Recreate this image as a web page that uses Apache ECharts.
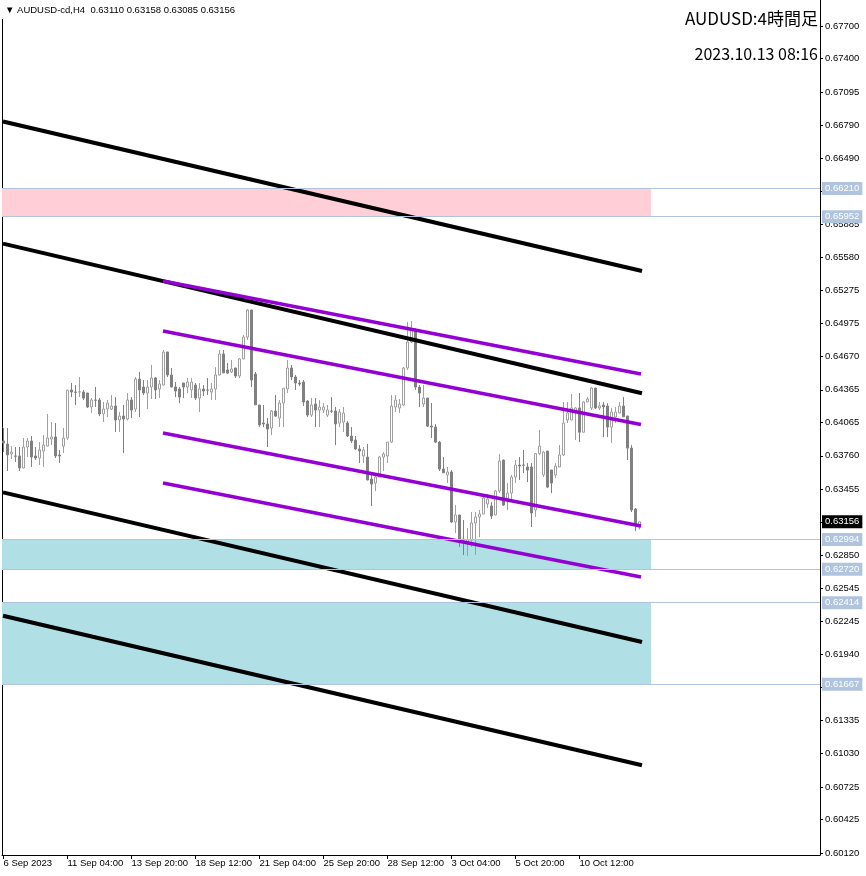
<!DOCTYPE html>
<html><head><meta charset="utf-8">
<script src="https://cdn.jsdelivr.net/npm/echarts@6/dist/echarts.min.js"></script>
<style>html,body{margin:0;padding:0;background:#fff}#c{width:866px;height:876px}</style>
</head><body><div id="c"></div>
<script>
const tickBars = [0,16,32,48,64,80,96,112,128,144];
const tickLabels = ['6 Sep 2023','11 Sep 04:00','13 Sep 20:00','18 Sep 12:00','21 Sep 04:00','25 Sep 20:00','28 Sep 12:00','3 Oct 04:00','5 Oct 20:00','10 Oct 12:00'];
const priceTicks = [0.67700,0.67400,0.67095,0.66790,0.66490,0.66185,0.65885,0.65580,0.65275,0.64975,0.64670,0.64365,0.64065,0.63760,0.63455,0.63150,0.62850,0.62545,0.62245,0.61940,0.61635,0.61335,0.61030,0.60725,0.60425,0.60120];

const opens = [0.63896,0.63869,0.63777,0.63759,0.63759,0.63649,0.63841,0.63896,0.63759,0.63740,
 0.63804,0.63850,0.63914,0.63933,0.63768,0.63850,0.63924,0.64364,0.64345,0.64345,
 0.64345,0.64336,0.64208,0.64272,0.64272,0.64144,0.64189,0.64189,0.64217,0.64089,
 0.64125,0.64098,0.64272,0.64189,0.64464,0.64391,0.64336,0.64391,0.64474,0.64373,
 0.64409,0.64712,0.64501,0.64391,0.64373,0.64428,0.64391,0.64364,0.64409,0.64290,
 0.64373,0.64364,0.64345,0.64373,0.64501,0.64694,0.64547,0.64529,0.64565,0.64492,
 0.64648,0.64849,0.65097,0.64510,0.64226,0.64061,0.64052,0.64015,0.64171,0.64107,
 0.64244,0.64373,0.64565,0.64483,0.64428,0.64437,0.64263,0.64134,0.64235,0.64180,
 0.64180,0.64134,0.64171,0.64171,0.64061,0.64070,0.64061,0.63942,0.63905,0.63823,
 0.63759,0.63749,0.63548,0.63511,0.63566,0.63749,0.63759,0.63886,0.64208,0.64199,
 0.64226,0.64565,0.64804,0.64914,0.64391,0.64235,0.64290,0.64033,0.64024,0.63886,
 0.63639,0.63585,0.63612,0.63154,0.63218,0.62998,0.62970,0.62989,0.63145,0.63200,
 0.63227,0.63319,0.63300,0.63218,0.63438,0.63722,0.63355,0.63419,0.63566,0.63676,
 0.63676,0.63658,0.63658,0.63264,0.63780,0.63585,0.63804,0.63630,0.63585,0.63658,
 0.63768,0.64089,0.64089,0.64153,0.64199,0.63977,0.64254,0.64199,0.64382,0.64199,
 0.64226,0.64217,0.64024,0.64116,0.64153,0.64217,0.64125,0.63831,0.63273,0.63110];
const highs = [0.64015,0.64015,0.63850,0.63841,0.63841,0.63924,0.63924,0.63942,0.63841,0.63887,
 0.63951,0.64144,0.64070,0.64061,0.63814,0.64015,0.64366,0.64428,0.64409,0.64483,
 0.64364,0.64338,0.64290,0.64391,0.64290,0.64254,0.64272,0.64318,0.64299,0.64162,
 0.64226,0.64336,0.64299,0.64483,0.64529,0.64455,0.64455,0.64593,0.64483,0.64455,
 0.64730,0.64714,0.64565,0.64437,0.64391,0.64430,0.64474,0.64474,0.64428,0.64428,
 0.64409,0.64474,0.64428,0.64574,0.64730,0.64730,0.64611,0.64639,0.64567,0.64657,
 0.64868,0.65106,0.65099,0.64529,0.64228,0.64226,0.64107,0.64180,0.64318,0.64272,
 0.64382,0.64639,0.64593,0.64501,0.64455,0.64455,0.64272,0.64290,0.64290,0.64272,
 0.64244,0.64226,0.64299,0.64208,0.64189,0.64208,0.64079,0.64024,0.63942,0.63859,
 0.63841,0.63869,0.63603,0.63585,0.63759,0.63795,0.63887,0.64318,0.64318,0.64281,
 0.64574,0.64987,0.64996,0.64930,0.64409,0.64409,0.64292,0.64244,0.64052,0.63896,
 0.63749,0.63658,0.63630,0.63309,0.63220,0.63172,0.63099,0.63245,0.63245,0.63264,
 0.63401,0.63410,0.63337,0.63447,0.63776,0.63724,0.63511,0.63585,0.63722,0.63749,
 0.63814,0.63694,0.63694,0.63785,0.63997,0.63804,0.63806,0.63632,0.63694,0.63859,
 0.64254,0.64254,0.64327,0.64208,0.64336,0.64261,0.64299,0.64391,0.64384,0.64254,
 0.64254,0.64244,0.64199,0.64208,0.64254,0.64299,0.64127,0.63859,0.63282,0.63158];
const lows = [0.63795,0.63621,0.63731,0.63704,0.63621,0.63645,0.63749,0.63658,0.63722,0.63676,
 0.63658,0.63848,0.63859,0.63740,0.63694,0.63786,0.63905,0.64299,0.64226,0.64299,
 0.64272,0.64199,0.64153,0.64208,0.64125,0.64070,0.64116,0.64180,0.63979,0.63979,
 0.63786,0.64085,0.64107,0.64162,0.64116,0.64318,0.64189,0.64281,0.64281,0.64290,
 0.64405,0.64483,0.64389,0.64299,0.64244,0.64290,0.64336,0.64290,0.64272,0.64162,
 0.64309,0.64318,0.64272,0.64272,0.64499,0.64519,0.64510,0.64519,0.64474,0.64474,
 0.64646,0.64822,0.64391,0.64226,0.64024,0.64024,0.63841,0.63951,0.64116,0.64024,
 0.64024,0.64336,0.64455,0.64364,0.64400,0.64217,0.64116,0.64116,0.64024,0.64024,
 0.64153,0.64116,0.64153,0.63859,0.64024,0.63979,0.63933,0.63878,0.63814,0.63694,
 0.63694,0.63536,0.63300,0.63438,0.63564,0.63621,0.63694,0.63878,0.64162,0.64153,
 0.64215,0.64547,0.64793,0.64364,0.64208,0.64208,0.64024,0.63923,0.63878,0.63621,
 0.63603,0.63511,0.63145,0.63053,0.62925,0.62852,0.62843,0.62925,0.62852,0.63016,
 0.63225,0.63282,0.63181,0.63216,0.63419,0.63300,0.63264,0.63337,0.63511,0.63539,
 0.63603,0.63520,0.63108,0.63200,0.63767,0.63566,0.63465,0.63419,0.63556,0.63656,
 0.63758,0.64061,0.64087,0.63905,0.63886,0.63975,0.64252,0.64180,0.64189,0.64180,
 0.63932,0.63932,0.63878,0.64061,0.64151,0.64116,0.63722,0.63245,0.63071,0.63085];
const closes = [0.63878,0.63768,0.63795,0.63757,0.63649,0.63841,0.63896,0.63749,0.63740,0.63814,
 0.63859,0.63924,0.63933,0.63759,0.63759,0.63924,0.64362,0.64345,0.64343,0.64347,
 0.64290,0.64208,0.64272,0.64270,0.64144,0.64189,0.64244,0.64217,0.64089,0.64125,
 0.64098,0.64272,0.64180,0.64464,0.64364,0.64336,0.64391,0.64474,0.64364,0.64419,
 0.64712,0.64501,0.64391,0.64354,0.64299,0.64391,0.64437,0.64437,0.64290,0.64373,
 0.64354,0.64362,0.64373,0.64501,0.64694,0.64521,0.64519,0.64556,0.64492,0.64648,
 0.64849,0.65097,0.64455,0.64228,0.64043,0.64052,0.64006,0.64171,0.64125,0.64244,
 0.64380,0.64565,0.64483,0.64428,0.64419,0.64254,0.64134,0.64226,0.64180,0.64208,
 0.64208,0.64180,0.64169,0.64052,0.64162,0.64153,0.63942,0.63896,0.63823,0.63804,
 0.63814,0.63539,0.63502,0.63566,0.63749,0.63777,0.63886,0.64217,0.64272,0.64235,
 0.64565,0.64804,0.64914,0.64391,0.64336,0.64290,0.64033,0.64024,0.63886,0.63639,
 0.63605,0.63612,0.63154,0.63218,0.62998,0.62989,0.62989,0.63145,0.63200,0.63227,
 0.63374,0.63365,0.63209,0.63438,0.63713,0.63309,0.63419,0.63566,0.63676,0.63667,
 0.63674,0.63630,0.63236,0.63780,0.63849,0.63795,0.63474,0.63511,0.63666,0.63768,
 0.64061,0.64153,0.64199,0.64199,0.63977,0.64254,0.64281,0.64382,0.64199,0.64217,
 0.64208,0.64024,0.64162,0.64162,0.64217,0.64118,0.63831,0.63264,0.63126,0.63156];

// channel lines: [startBar, startPrice, endBar, endPrice]
const blackLines = [
  [-0.125, 0.66825, 159.625, 0.65454],
  [-0.125, 0.65705, 159.625, 0.64334],
  [-0.125, 0.63425, 159.625, 0.62054],
  [-0.125, 0.62295, 159.625, 0.60924]
];
const purpleLines = [
  [39.875, 0.65363, 159.375, 0.64510],
  [39.875, 0.64904, 159.375, 0.64047],
  [39.875, 0.63970, 159.375, 0.63117],
  [39.875, 0.63511, 159.375, 0.62650]
];
// zones
const zoneTops = [0.66210, 0.62994, 0.62414];
const zoneBottoms = [0.65952, 0.62720, 0.61667];
const zoneKinds = ['resistance', 'support', 'support'];
const zoneEndBar = 161.875;
const levelPrices = [0.66210, 0.65952, 0.62994, 0.62720, 0.62414, 0.61667];

const symbolName = 'AUDUSD-cd,H4';
const chartTitle = 'AUDUSD:4時間足';
const chartTime = '2023.10.13 08:16';

const FONT = 'Liberation Sans';
const X_MIN = -0.375, X_MAX = 204.125;
const Y_MIN = 0.601017, Y_MAX = 0.679383;

const last = opens.length - 1;
const header = '\u25BC ' + symbolName + '  ' + [opens[last], highs[last], lows[last], closes[last]].map(v => v.toFixed(5)).join(' ');

const candleData = opens.map((o, i) => [i, o, closes[i], lows[i], highs[i]]);

const zoneColors = {resistance: '#FFCED6', support: '#B0E0E6'};

const lineSeries = [];
blackLines.forEach(l => lineSeries.push({
  type: 'line', data: [[l[0], l[1]], [l[2], l[3]]], showSymbol: false, symbol: 'none', z: 4, silent: true,
  lineStyle: {color: '#000000', width: 4}
}));
purpleLines.forEach(l => lineSeries.push({
  type: 'line', data: [[l[0], l[1]], [l[2], l[3]]], showSymbol: false, symbol: 'none', z: 4, silent: true,
  lineStyle: {color: '#9400D3', width: 3.5}
}));

const priceLabel = (bg) => ({show: true, position: 'end', distance: 2,
  formatter: p => Number(p.value).toFixed(5),
  backgroundColor: bg, color: '#ffffff', padding: [2, 3, 1, 3], fontSize: 9.5, fontFamily: FONT});

const chart = echarts.init(document.getElementById('c'), null, {renderer: 'canvas'});
chart.setOption({
  animation: false,
  backgroundColor: '#ffffff',
  title: [
    {text: header, left: 0, top: 0, padding: [5, 6, 4, 5], backgroundColor: '#ffffff',
     textStyle: {fontSize: 9.5, fontWeight: 'normal', color: '#000', fontFamily: FONT}},
    {text: chartTitle, right: 48, top: 10, padding: 0,
     textStyle: {fontSize: 17, fontWeight: 'normal', color: '#000', fontFamily: 'Noto Sans CJK JP'}},
    {text: chartTime, right: 48, top: 46, padding: 0,
     textStyle: {fontSize: 16, fontWeight: 'normal', color: '#000', fontFamily: 'Noto Sans CJK JP'}}
  ],
  grid: {left: 2, right: 46, top: 0, bottom: 21, containLabel: false, outerBoundsMode: 'none'},
  xAxis: {
    type: 'value', min: X_MIN, max: X_MAX,
    axisLine: {show: true, onZero: false, lineStyle: {color: '#000', width: 1}},
    axisTick: {show: true, length: 4, customValues: tickBars, lineStyle: {color: '#000'}},
    axisLabel: {customValues: tickBars, align: 'left', margin: 3, fontSize: 9.5, color: '#000', fontFamily: FONT,
      formatter: v => tickLabels[tickBars.indexOf(Math.round(v))] || ''},
    splitLine: {show: false}
  },
  yAxis: [
    {type: 'value', position: 'right', min: Y_MIN, max: Y_MAX, scale: true,
     axisLine: {show: true, onZero: false, lineStyle: {color: '#000', width: 1}},
     axisTick: {show: true, length: 3, customValues: priceTicks, lineStyle: {color: '#000'}},
     axisLabel: {customValues: priceTicks, margin: 5, fontSize: 9.5, color: '#000', fontFamily: FONT,
       formatter: v => v.toFixed(5)},
     splitLine: {show: false}},
    {type: 'value', position: 'left', min: Y_MIN, max: Y_MAX, scale: true,
     axisLine: {show: true, onZero: false, lineStyle: {color: '#000', width: 1}},
     axisTick: {show: false}, axisLabel: {show: false}, splitLine: {show: false}}
  ],
  series: [
    {type: 'line', data: [], z: 1, silent: true,
     markArea: {silent: true, itemStyle: {borderWidth: 0},
       data: zoneTops.map((t, i) => [
         {coord: [X_MIN, t], itemStyle: {color: zoneColors[zoneKinds[i]]}},
         {coord: [zoneEndBar, zoneBottoms[i]]}
       ])}},
    {type: 'line', data: [], z: 2, silent: true,
     markLine: {silent: true, symbol: ['none', 'none'], animation: false, precision: 5,
       lineStyle: {color: '#B0C4DE', width: 1, type: 'solid'},
       label: priceLabel('#B0C4DE'),
       emphasis: {disabled: true},
       data: levelPrices.map(v => ({yAxis: v}))}},
    {type: 'candlestick', data: candleData, z: 3, barWidth: 3, silent: true,
     encode: {x: 0, y: [1, 2, 3, 4]},
     itemStyle: {color: '#ffffff', color0: '#808080', borderColor: '#a0a0a0', borderColor0: '#808080', borderWidth: 1,
       borderColorDoji: '#a0a0a0'}},
    ...lineSeries,
    {type: 'line', data: [], z: 6, silent: true,
     markLine: {silent: true, symbol: ['none', 'none'], animation: false, precision: 5,
       lineStyle: {color: 'rgba(0,0,0,0)', width: 1, type: 'solid'},
       label: priceLabel('#000000'),
       emphasis: {disabled: true},
       data: [{yAxis: closes[last]}]}}
  ]
});
</script></body></html>
